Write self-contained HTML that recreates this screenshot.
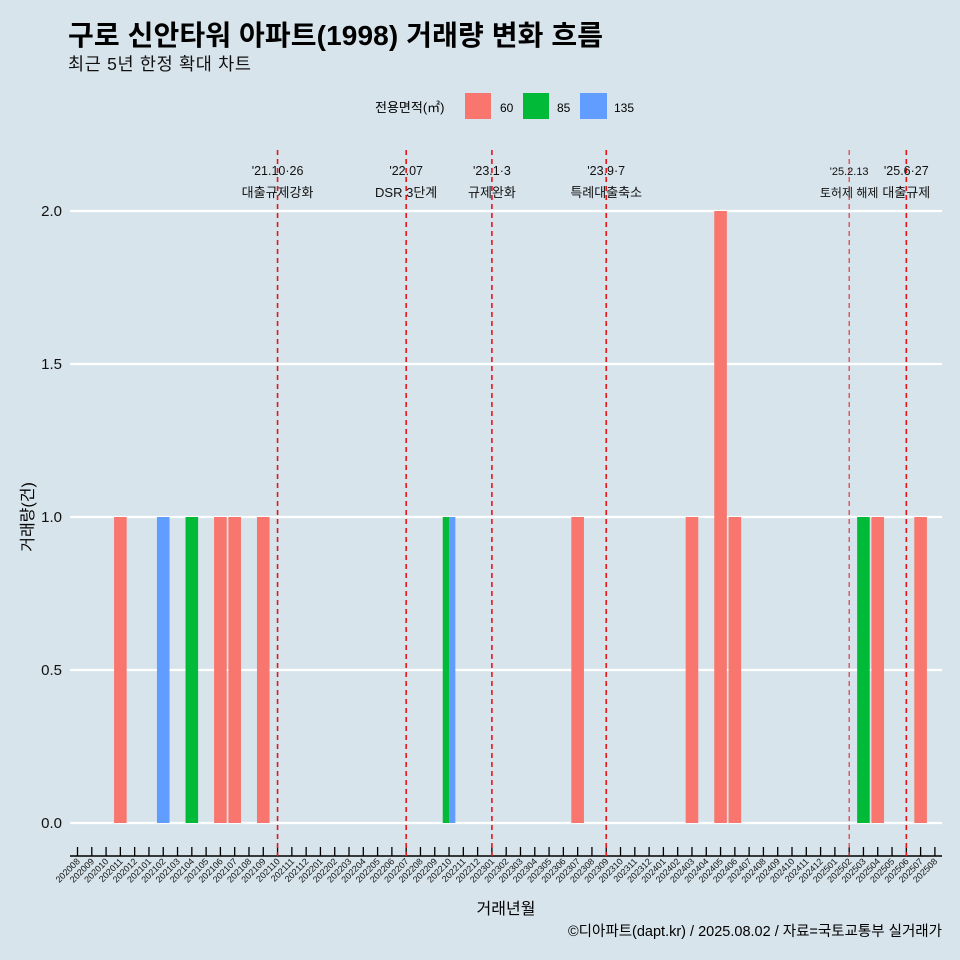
<!DOCTYPE html>
<html><head><meta charset="utf-8"><style>
body{margin:0;background:#d7e4eb;}
svg{display:block;font-family:"Liberation Sans","Noto Sans CJK KR",sans-serif;}
</style></head><body>
<svg id="c" width="960" height="960">
<rect width="960" height="960" fill="#d7e4eb"/>
<text x="68" y="45" font-size="28" font-weight="bold" fill="#000" textLength="535">구로 신안타워 아파트(1998) 거래량 변화 흐름</text>
<text x="68" y="70" font-size="17.5" fill="#111" textLength="183">최근 5년 한정 확대 차트</text>
<g>
<text x="375" y="112" font-size="13">전용면적(㎡)</text>
<rect x="465" y="93" width="26" height="26" fill="#f8766d"/>
<text x="500" y="112" font-size="12">60</text>
<rect x="523" y="93" width="26" height="26" fill="#00ba38"/>
<text x="557" y="112" font-size="12">85</text>
<rect x="580" y="93" width="27" height="26" fill="#619cff"/>
<text x="614" y="112" font-size="12">135</text>
</g>
<text transform="translate(33,517) rotate(-90)" text-anchor="middle" font-size="16">거래량(건)</text>
<text x="506" y="914" text-anchor="middle" font-size="16">거래년월</text>
<text x="942" y="936" text-anchor="end" font-size="14.5">©디아파트(dapt.kr) / 2025.08.02 / 자료=국토교통부 실거래가</text>
</svg>
<script>
const months=[];for(let y=2020;y<=2025;y++)for(let m=1;m<=12;m++){const k=y*100+m;if(k>=202008&&k<=202508)months.push(String(k));}
const yTicks=[0,0.5,1,1.5,2];
const yTickLabels=["0.0","0.5","1.0","1.5","2.0"];
const barMonths=["202011","202102","202104","202106","202107","202109","202210","202210","202307","202403","202405","202406","202503","202504","202507"];
const barAreas=["60","135","85","60","60","60","85","135","60","60","60","60","85","60","60"];
const barCounts=[1,1,1,1,1,1,1,1,1,1,2,1,1,1,1];
const eventMonths=["202110","202207","202301","202309","202502","202506"];
const eventDates=["'21.10·26","'22.07","'23.1·3","'23.9·7","'25.2.13","'25.6·27"];
const eventLabels=["대출규제강화","DSR 3단계","규제완화","특례대출축소","토허제 해제","대출규제"];
const colors={"60":"#f8766d","85":"#00ba38","135":"#619cff"};
const NS="http://www.w3.org/2000/svg",svg=document.getElementById('c');
function el(t,a){const e=document.createElementNS(NS,t);for(const k in a)e.setAttribute(k,a[k]);svg.appendChild(e);return e;}
const xs=i=>77.5+i*14.29, ys=v=>823-v*306;
yTicks.forEach((v,i)=>{
 const g=el('line',{x1:70,x2:942,y1:ys(v),y2:ys(v),stroke:'#fff','stroke-width':2.2});
 
 
 const t=el('text',{x:62,y:ys(v)+5,'text-anchor':'end','font-size':15,fill:'#111'});t.textContent=yTickLabels[i];
 
 
});
const ax=el('line',{x1:70,x2:942,y1:856,y2:856,stroke:'#000','stroke-width':1.5});


months.forEach((m,i)=>{
 const x=xs(i);
 const tk=el('line',{x1:x,x2:x,y1:847,y2:856,stroke:'#000','stroke-width':1.3});
 
 
 const t=el('text',{x:x+3,y:862,'text-anchor':'end','font-size':9,fill:'#111',transform:`rotate(-45 ${x+3} 862)`});t.textContent=m;
 
 
});
const groups={};barMonths.forEach((m,j)=>{(groups[m]=groups[m]||[]).push(j);});
Object.keys(groups).forEach(m=>{
 const idx=groups[m],i=months.indexOf(m),w=12.6,n=idx.length;
 idx.forEach((j,k)=>{
  const bw=w/n,x=xs(i)-w/2+k*bw;
  const r=el('rect',{x:x,y:ys(barCounts[j]),width:bw,height:ys(0)-ys(barCounts[j]),fill:colors[barAreas[j]]});
  
  
 });
});
eventMonths.forEach((m,k)=>{
 const x=xs(months.indexOf(m)),thin=m==="202502";
 const l=el('line',{x1:x,x2:x,y1:150,y2:856,stroke:'#e8141a','stroke-width':thin?1:1.6,'stroke-dasharray':'5,4'});
 
 
 const t1=el('text',{x:x,y:175,'text-anchor':'middle','font-size':thin?11:12.5,fill:'#111'});t1.textContent=eventDates[k];
 
 
 const t2=el('text',{x:x,y:197,'text-anchor':'middle','font-size':thin?12:13,fill:'#111'});t2.textContent=eventLabels[k];
 
 
});
</script>
</body></html>
